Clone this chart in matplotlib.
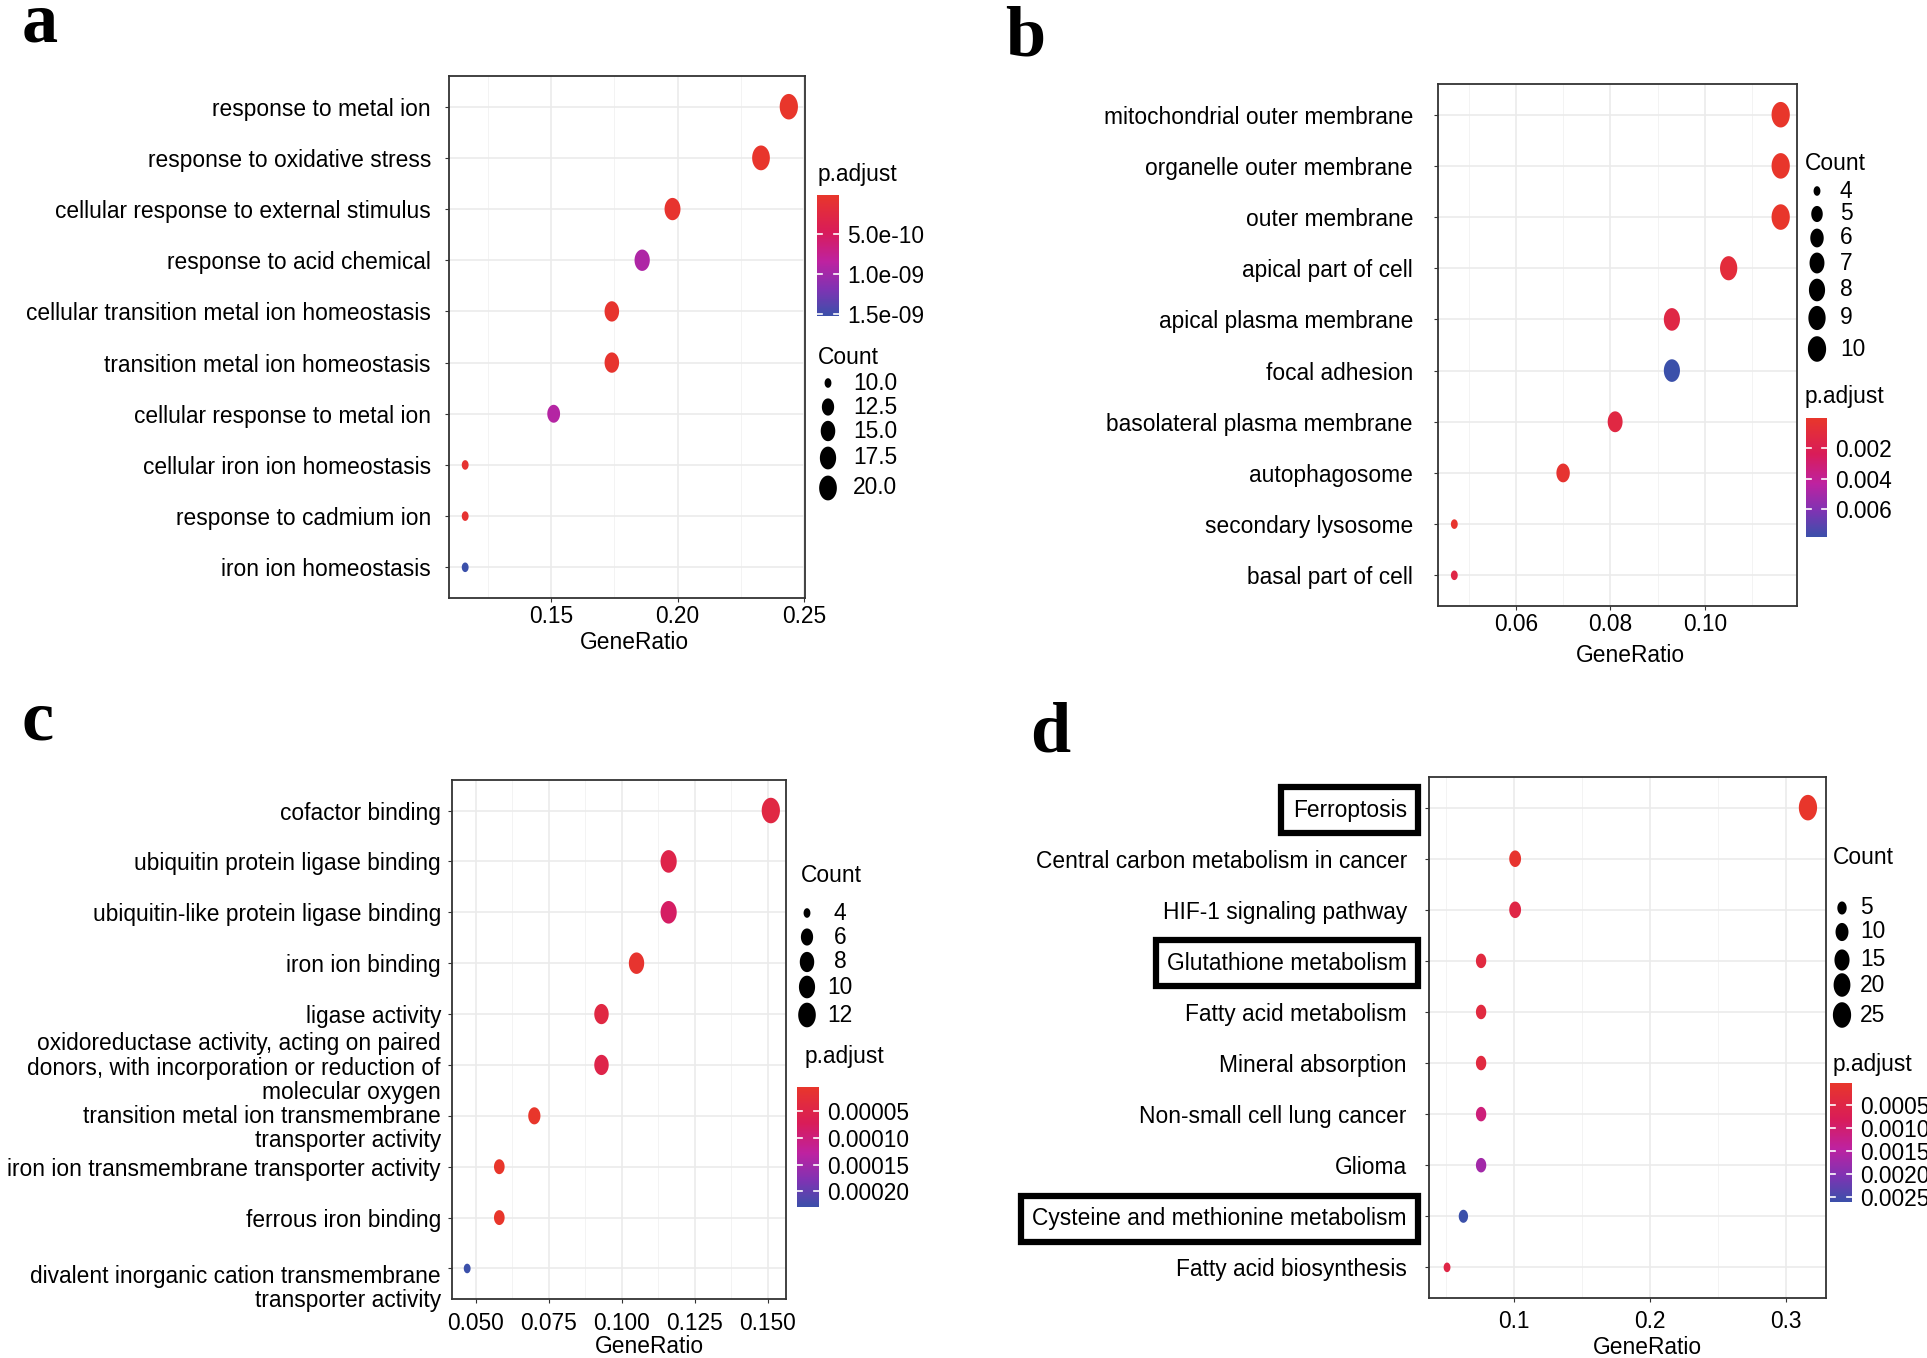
import numpy as np
import matplotlib
matplotlib.use('Agg')
import matplotlib.pyplot as plt
from matplotlib.colors import LinearSegmentedColormap, Normalize
from matplotlib.cm import ScalarMappable
from matplotlib.path import Path
from matplotlib.transforms import ScaledTranslation

plt.rcParams['font.family'] = ['Liberation Sans', 'DejaVu Sans']

W, H = 1927, 1358
FS = 16.4

# ---------------- data ----------------
# a: GO biological process
terms_a = ['response to metal ion', 'response to oxidative stress',
           'cellular response to external stimulus', 'response to acid chemical',
           'cellular transition metal ion homeostasis', 'transition metal ion homeostasis',
           'cellular response to metal ion', 'cellular iron ion homeostasis',
           'response to cadmium ion', 'iron ion homeostasis']
ratio_a = [0.244, 0.233, 0.198, 0.186, 0.174, 0.174, 0.151, 0.116, 0.116, 0.116]
count_a = [21, 20, 17, 16, 15, 15, 13, 10, 10, 10]
padj_a = [1.5e-11, 3e-11, 6e-11, 9.3e-10, 5e-11, 5e-11, 9e-10, 8e-11, 8e-11, 1.52e-9]
xticks_a = [0.15, 0.20, 0.25]
xticklabels_a = ['0.15', '0.20', '0.25']
size_breaks_a = [10, 12.5, 15, 17.5, 20]
size_labels_a = ['10.0', '12.5', '15.0', '17.5', '20.0']
col_breaks_a = [5e-10, 1e-9, 1.5e-9]
col_labels_a = ['5.0e-10', '1.0e-09', '1.5e-09']

# b: GO cellular component
terms_b = ['mitochondrial outer membrane', 'organelle outer membrane', 'outer membrane',
           'apical part of cell', 'apical plasma membrane', 'focal adhesion',
           'basolateral plasma membrane', 'autophagosome', 'secondary lysosome',
           'basal part of cell']
ratio_b = [0.116, 0.116, 0.116, 0.105, 0.093, 0.093, 0.081, 0.070, 0.047, 0.047]
count_b = [10, 10, 10, 9, 8, 8, 7, 6, 4, 4]
padj_b = [4e-5, 4e-5, 4e-5, 9e-4, 1.4e-3, 7.8e-3, 1.3e-3, 3e-4, 2e-4, 1.5e-3]
xticks_b = [0.06, 0.08, 0.10]
xticklabels_b = ['0.06', '0.08', '0.10']
size_breaks_b = [4, 5, 6, 7, 8, 9, 10]
size_labels_b = ['4', '5', '6', '7', '8', '9', '10']
col_breaks_b = [0.002, 0.004, 0.006]
col_labels_b = ['0.002', '0.004', '0.006']

# c: GO molecular function
terms_c = ['cofactor binding', 'ubiquitin protein ligase binding',
           'ubiquitin-like protein ligase binding', 'iron ion binding', 'ligase activity',
           'oxidoreductase activity, acting on paired\ndonors, with incorporation or reduction of\nmolecular oxygen',
           'transition metal ion transmembrane\ntransporter activity',
           'iron ion transmembrane transporter activity', 'ferrous iron binding',
           'divalent inorganic cation transmembrane\ntransporter activity']
ratio_c = [0.151, 0.116, 0.116, 0.105, 0.093, 0.093, 0.070, 0.058, 0.058, 0.047]
count_c = [13, 10, 10, 9, 8, 8, 6, 5, 5, 4]
padj_c = [4e-5, 5e-5, 8e-5, 1e-5, 4e-5, 5e-5, 4e-6, 4e-6, 4e-6, 2.3e-4]
xticks_c = [0.050, 0.075, 0.100, 0.125, 0.150]
xticklabels_c = ['0.050', '0.075', '0.100', '0.125', '0.150']
size_breaks_c = [4, 6, 8, 10, 12]
size_labels_c = ['4', '6', '8', '10', '12']
col_breaks_c = [5e-5, 1e-4, 1.5e-4, 2e-4]
col_labels_c = ['0.00005', '0.00010', '0.00015', '0.00020']

# d: KEGG
terms_d = ['Ferroptosis', 'Central carbon metabolism in cancer', 'HIF-1 signaling pathway',
           'Glutathione metabolism', 'Fatty acid metabolism', 'Mineral absorption',
           'Non-small cell lung cancer', 'Glioma', 'Cysteine and methionine metabolism',
           'Fatty acid biosynthesis']
ratio_d = [0.316, 0.101, 0.101, 0.076, 0.076, 0.076, 0.076, 0.076, 0.063, 0.051]
count_d = [25, 8, 8, 6, 6, 6, 6, 6, 5, 4]
padj_d = [3e-5, 1e-4, 5e-4, 4e-4, 4e-4, 4e-4, 1.1e-3, 1.7e-3, 2.6e-3, 5e-4]
boxed_d = ['Ferroptosis', 'Glutathione metabolism', 'Cysteine and methionine metabolism']
xticks_d = [0.1, 0.2, 0.3]
xticklabels_d = ['0.1', '0.2', '0.3']
size_breaks_d = [5, 10, 15, 20, 25]
size_labels_d = ['5', '10', '15', '20', '25']
col_breaks_d = [0.0005, 0.0010, 0.0015, 0.0020, 0.0025]
col_labels_d = ['0.0005', '0.0010', '0.0015', '0.0020', '0.0025']

# ---------------- style helpers ----------------
cmap = LinearSegmentedColormap.from_list(
    'padj', [(0, '#E8362B'), (0.3, '#D91C58'), (0.55, '#BE22A0'),
             (0.78, '#7F33B3'), (1, '#3B50AA')])

theta = np.linspace(0, 2 * np.pi, 60)
ellipse = Path(np.column_stack([np.cos(theta), 1.4 * np.sin(theta)]), closed=True)


def dot_size(c, cmin, cmax):
    t = (np.asarray(c, float) - cmin) / (cmax - cmin)
    h = 2.3 * (3 + 5 * np.sqrt(np.clip(t, 0, 1)))
    return h ** 2


def rect(l, t, r, b):
    return [l / W, 1 - b / H, (r - l) / W, (b - t) / H]


fig = plt.figure(figsize=(W / 100, H / 100), dpi=100)
ov = fig.add_axes([0, 0, 1, 1], zorder=5)
ov.set_xlim(0, W)
ov.set_ylim(H, 0)
ov.axis('off')


def draw_panel(terms, ratio, count, padj, box, xticks, xticklabels, ypad, xpad,
               xlab_x, xlab_pad, boxed=(), label_shift=None):
    ax = fig.add_axes(rect(*box))
    n = len(terms)
    y = np.arange(n)
    cmin, cmax = min(count), max(count)
    norm = Normalize(min(padj), max(padj))
    ax.scatter(ratio, y, s=dot_size(count, cmin, cmax), c=padj, cmap=cmap, norm=norm,
               marker=ellipse, linewidths=0, zorder=3)
    ax.set_yticks(y, terms)
    ax.set_xticks(xticks, xticklabels)
    step = xticks[1] - xticks[0]
    minor = np.arange(xticks[0] - step / 2, xticks[-1] + step, step)
    ax.set_xticks(minor, minor=True)
    # ggplot-like 5% expansion, set after ticks so the minor ticks don't widen it
    lo, hi = min(ratio), max(ratio)
    span = hi - lo
    ax.set_xlim(lo - 0.05 * span, hi + 0.05 * span)
    ax.set_ylim(n - 0.4, -0.6)
    ax.grid(which='major', color='#EBEBEB', lw=1.2)
    ax.grid(which='minor', axis='x', color='#F3F3F3', lw=0.7)
    ax.set_axisbelow(True)
    for sp in ax.spines.values():
        sp.set_color('#333333')
        sp.set_linewidth(1.3)
    ax.tick_params(which='major', length=3, color='#333333', labelsize=FS, labelcolor='black')
    ax.tick_params(axis='y', pad=ypad)
    ax.tick_params(axis='x', pad=xpad)
    ax.tick_params(which='minor', length=0)
    for lbl in ax.get_yticklabels():
        lbl.set_linespacing(1.08)
        if lbl.get_text() in boxed:
            lbl.set_bbox(dict(facecolor='white', edgecolor='black', linewidth=4.5,
                              boxstyle='square,pad=0.5'))
        if label_shift and lbl.get_text() in label_shift:
            dy = label_shift[lbl.get_text()]
            lbl.set_transform(lbl.get_transform() +
                              ScaledTranslation(0, -dy / 72, fig.dpi_scale_trans))
    ax.set_xlabel('GeneRatio', fontsize=FS, labelpad=xlab_pad)
    ax.xaxis.label.set_x(xlab_x)
    return norm, cmin, cmax


def size_legend(title_xy, entries_y, dot_x, label_x, breaks, labels, cmin, cmax, ha='left'):
    ov.text(title_xy[0], title_xy[1], 'Count', fontsize=FS, va='center', ha='left')
    ov.scatter([dot_x] * len(breaks), entries_y, s=dot_size(breaks, cmin, cmax),
               marker=ellipse, color='black', linewidths=0)
    for yy, lab in zip(entries_y, labels):
        ov.text(label_x, yy, lab, fontsize=FS, va='center', ha=ha)


def color_legend(title_xy, bar_box, norm, breaks, labels):
    ov.text(title_xy[0], title_xy[1], 'p.adjust', fontsize=FS, va='center', ha='left')
    cax = fig.add_axes(rect(*bar_box))
    cb = fig.colorbar(ScalarMappable(norm=norm, cmap=cmap), cax=cax)
    cax.invert_yaxis()
    cb.outline.set_visible(False)
    cb.set_ticks(breaks, labels=labels)
    cax.tick_params(length=0, labelsize=FS, pad=6)
    for b in breaks:
        cax.axhline(b, 0, 0.22, color='white', lw=1.2)
        cax.axhline(b, 0.78, 1, color='white', lw=1.2)


# panel a
norm, cmin, cmax = draw_panel(terms_a, ratio_a, count_a, padj_a, (449, 76, 805, 598),
                              xticks_a, xticklabels_a, ypad=10, xpad=2,
                              xlab_x=0.52, xlab_pad=2.5)
color_legend((818, 175), (817, 195, 839, 316), norm, col_breaks_a, col_labels_a)
size_legend((818, 357), [383, 407, 431, 458, 488], 828, 853,
            size_breaks_a, size_labels_a, cmin, cmax)

# panel b
norm, cmin, cmax = draw_panel(terms_b, ratio_b, count_b, padj_b, (1438, 84, 1797, 606),
                              xticks_b, xticklabels_b, ypad=15, xpad=2,
                              xlab_x=0.535, xlab_pad=6)
size_legend((1805, 163), [191, 214, 238, 263, 290, 318, 349], 1817, 1840,
            size_breaks_b, size_labels_b, cmin, cmax)
color_legend((1805, 397), (1806, 418, 1827, 537), norm, col_breaks_b, col_labels_b)

# panel c
norm, cmin, cmax = draw_panel(
    terms_c, ratio_c, count_c, padj_c, (452, 780, 786, 1299),
    xticks_c, xticklabels_c, ypad=5, xpad=6, xlab_x=0.59, xlab_pad=0.5,
    label_shift={terms_c[6]: 7, terms_c[9]: 12})
size_legend((801, 875), [913, 937, 962, 987, 1015], 807, 840,
            size_breaks_c, size_labels_c, cmin, cmax, ha='center')
color_legend((805, 1057), (797, 1087, 819, 1207), norm, col_breaks_c, col_labels_c)

# panel d
norm, cmin, cmax = draw_panel(terms_d, ratio_d, count_d, padj_d, (1429, 777, 1826, 1298),
                              xticks_d, xticklabels_d, ypad=13, xpad=6,
                              xlab_x=0.55, xlab_pad=2, boxed=boxed_d)
size_legend((1833, 858), [908, 932, 960, 985, 1015], 1842, 1860,
            size_breaks_d, size_labels_d, cmin, cmax)
color_legend((1833, 1065), (1830, 1083, 1852, 1202), norm, col_breaks_d, col_labels_d)

# panel letters
for letter, (lx, ly) in zip('abcd', [(22, 41), (1005, 56), (22, 739), (1030, 752)]):
    ov.text(lx, ly, letter, fontsize=52, fontweight='bold', family='Liberation Serif',
            ha='left', va='baseline')

fig.savefig('out.png', dpi=100)
